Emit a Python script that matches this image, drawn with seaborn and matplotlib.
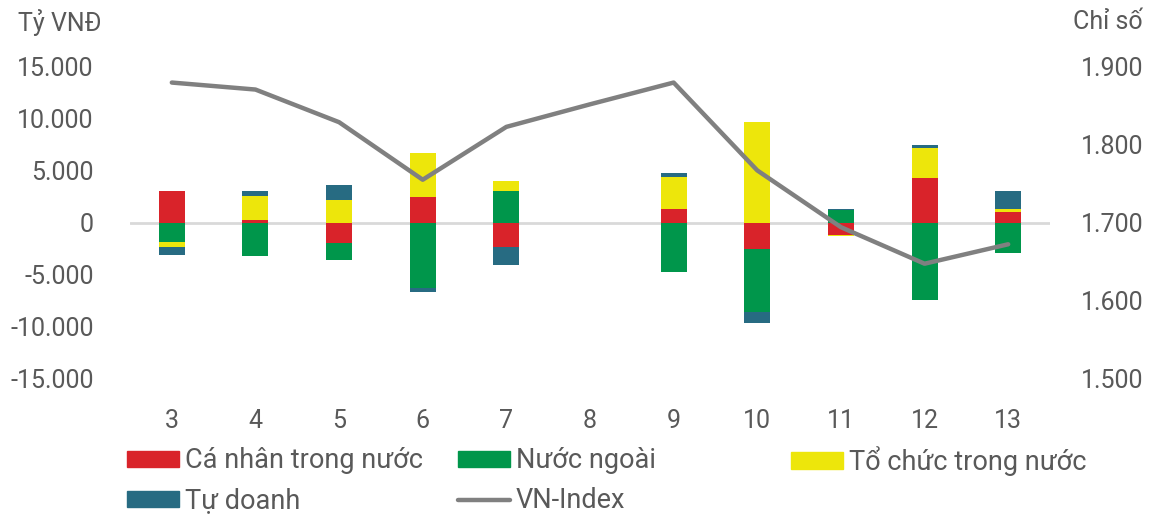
import numpy as np
import pandas as pd
import matplotlib
matplotlib.use("Agg")
import matplotlib.pyplot as plt
import seaborn as sns
from matplotlib.patches import Patch
from matplotlib.lines import Line2D
from matplotlib.ticker import FuncFormatter

# Data (tỷ VNĐ, by week)
weeks = ['3', '4', '5', '6', '7', '8', '9', '10', '11', '12', '13']
ca_nhan = [3080, 200, -1990, 2500, -2400, 0, 1280, -2530, -1250, 4330, 990]
nuoc_ngoai = [-1860, -3200, -1600, -6280, 3080, 0, -4740, -6150, 1190, -7470, -2980]
to_chuc = [-550, 2400, 2210, 4200, 960, 0, 3110, 9740, -40, 2880, 290]
tu_doanh = [-700, 480, 1380, -450, -1670, 0, 385, -1030, 100, 290, 1730]
vn_index = [1880, 1871, 1829, 1755, 1823, 1852, 1880, 1767, 1694, 1647, 1672]

series_names = ['Cá nhân trong nước', 'Nước ngoài', 'Tổ chức trong nước', 'Tự doanh']
colors = ['#d9232a', '#00964b', '#ede60b', '#276b82']
line_color = '#808080'
text_color = '#595959'

sns.set_style('white')
plt.rcParams['font.family'] = ['Roboto', 'DejaVu Sans']
plt.rcParams['text.color'] = text_color

fig = plt.figure(figsize=(11.5, 5.17), dpi=100)
ax = fig.add_axes([130 / 1150, 139 / 517, 920 / 1150, 311 / 517])

x = np.arange(len(weeks))
pos_base = np.zeros(len(weeks))
neg_base = np.zeros(len(weeks))
for name, vals, col in zip(series_names, [ca_nhan, nuoc_ngoai, to_chuc, tu_doanh], colors):
    v = np.array(vals, dtype=float)
    bottom = np.where(v >= 0, pos_base, neg_base)
    ax.bar(x, v, bottom=bottom, width=0.31, color=col, edgecolor='none', zorder=2)
    pos_base += np.where(v >= 0, v, 0)
    neg_base += np.where(v < 0, v, 0)

ax.axhline(0, color='#d9d9d9', lw=2, zorder=1)
ax.set_xlim(-0.5, len(weeks) - 0.5)
ax.set_ylim(-15000, 15000)
ax.set_yticks(range(-15000, 15001, 5000))
ax.yaxis.set_major_formatter(FuncFormatter(lambda v, p: f'{int(v):,}'.replace(',', '.')))
ax.set_xticks(x)
ax.set_xticklabels(weeks)
ax.tick_params(axis='y', length=0, pad=26, labelsize=18, labelcolor=text_color)
ax.tick_params(axis='x', length=0, pad=22, labelsize=18, labelcolor=text_color)
for s in ax.spines.values():
    s.set_visible(False)
ax.grid(False)

ax2 = ax.twinx()
df_line = pd.DataFrame({'x': x, 'VN-Index': vn_index})
sns.lineplot(data=df_line, x='x', y='VN-Index', ax=ax2, color=line_color, lw=3.2, zorder=3)
ax2.set_ylim(1500, 1900)
ax2.set_yticks(range(1500, 1901, 100))
ax2.yaxis.set_major_formatter(FuncFormatter(lambda v, p: f'{int(v):,}'.replace(',', '.')))
ax2.tick_params(axis='y', length=0, pad=22, labelsize=18, labelcolor=text_color)
ax2.set_ylabel('')
ax2.set_xlabel('')
for s in ax2.spines.values():
    s.set_visible(False)
ax2.grid(False)
ax.set_xlabel('')

fig.text(18 / 1150, 1 - 22 / 517, 'Tỷ VNĐ', fontsize=18, color=text_color, va='center', ha='left')
fig.text(1143 / 1150, 1 - 22 / 517, 'Chỉ số', fontsize=18, color=text_color, va='center', ha='right')

# legend: one small legend per entry, placed on a 3-column grid
entries = [
    (Patch(color=colors[0]), series_names[0], 127, 461),
    (Patch(color=colors[1]), series_names[1], 458, 461),
    (Patch(color=colors[2]), series_names[2], 791, 461),
    (Patch(color=colors[3]), series_names[3], 127, 501),
    (Line2D([], [], color=line_color, lw=3.2), 'VN-Index', 458, 501),
]
for h, lab, lx, ly in entries:
    leg = fig.legend([h], [lab], loc='center left',
                     bbox_to_anchor=(lx / 1150, 1 - ly / 517),
                     frameon=False, fontsize=19.5, handlelength=1.92, handleheight=0.56,
                     handletextpad=0.22, borderpad=0, borderaxespad=0)
    for t in leg.get_texts():
        t.set_color(text_color)

fig.savefig('out.png', dpi=100)
